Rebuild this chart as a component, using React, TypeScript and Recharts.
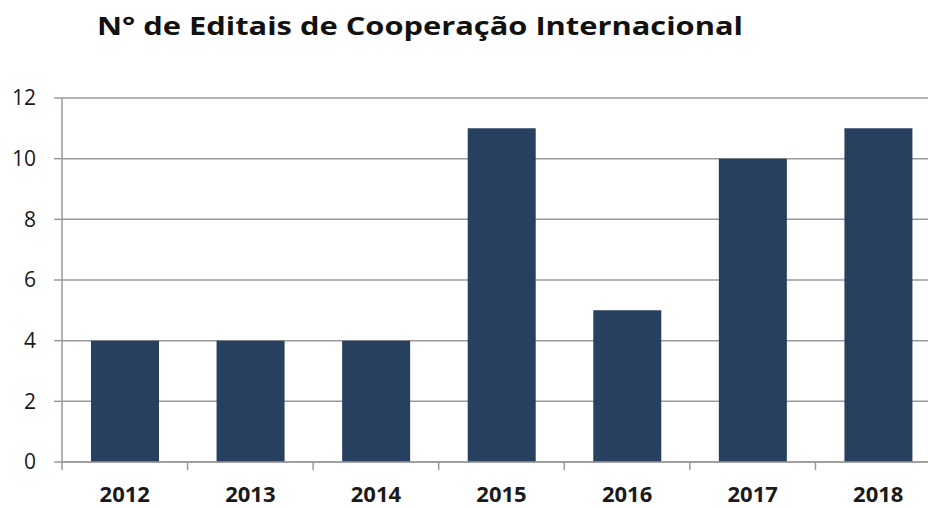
import { Bar, BarChart, CartesianGrid, XAxis, YAxis } from "recharts";

const years = ["2012", "2013", "2014", "2015", "2016", "2017", "2018"];
const editais = [4, 4, 4, 11, 5, 10, 11];
const yTicks = [0, 2, 4, 6, 8, 10, 12];

const data = years.map((year, i) => ({ year, editais: editais[i] }));

const axisGray = "#9a9a9a";
const font = "'Open Sans', 'DejaVu Sans', sans-serif";

// Excel puts the x tick marks between the categories, so draw them from the band start
function YearTick(props: any) {
  const { x, y, payload } = props;
  const half = payload.offset ?? 0;
  return (
    <g>
      <line
        x1={x - half}
        x2={x - half}
        y1={y}
        y2={y + 8}
        stroke={axisGray}
        strokeWidth={1.5}
      />
      <text
        x={x}
        y={y + 24}
        dy="0.71em"
        textAnchor="middle"
        fontFamily={font}
        fontSize={22}
        fontWeight={700}
        fill="#1a1a1a"
      >
        {payload.value}
      </text>
    </g>
  );
}

export default function App() {
  return (
    <div
      style={{
        position: "absolute",
        left: 0,
        top: 0,
        width: 928,
        height: 508,
        overflow: "hidden",
        background: "#fff",
      }}
    >
      <svg
        width={928}
        height={60}
        style={{ position: "absolute", left: 0, top: 0 }}
      >
        <text
          x={97}
          y={35}
          fontFamily={font}
          fontWeight={700}
          fontSize={25}
          fill="#111"
          textLength={646}
          lengthAdjust="spacingAndGlyphs"
        >
          N° de Editais de Cooperação Internacional
        </text>
      </svg>

      {/* plot runs past the right edge like the original, so margin.right is negative */}
      <BarChart
        width={928}
        height={508}
        data={data}
        margin={{ top: 98, right: -13, bottom: 0, left: 0 }}
      >
        <CartesianGrid vertical={false} stroke={axisGray} strokeWidth={1.5} />
        <XAxis
          dataKey="year"
          height={46}
          tickLine={false}
          tickSize={0}
          tickMargin={0}
          stroke={axisGray}
          strokeWidth={1.5}
          interval={0}
          tick={<YearTick />}
        />
        <YAxis
          width={62}
          domain={[0, 12]}
          ticks={yTicks}
          tickSize={8}
          tickMargin={18}
          stroke={axisGray}
          strokeWidth={1.5}
          tick={{ fontFamily: font, fontSize: 21, fill: "#1a1a1a" }}
        />
        <Bar
          dataKey="editais"
          fill="#27405f"
          barSize={68}
          isAnimationActive={false}
        />
      </BarChart>
    </div>
  );
}
